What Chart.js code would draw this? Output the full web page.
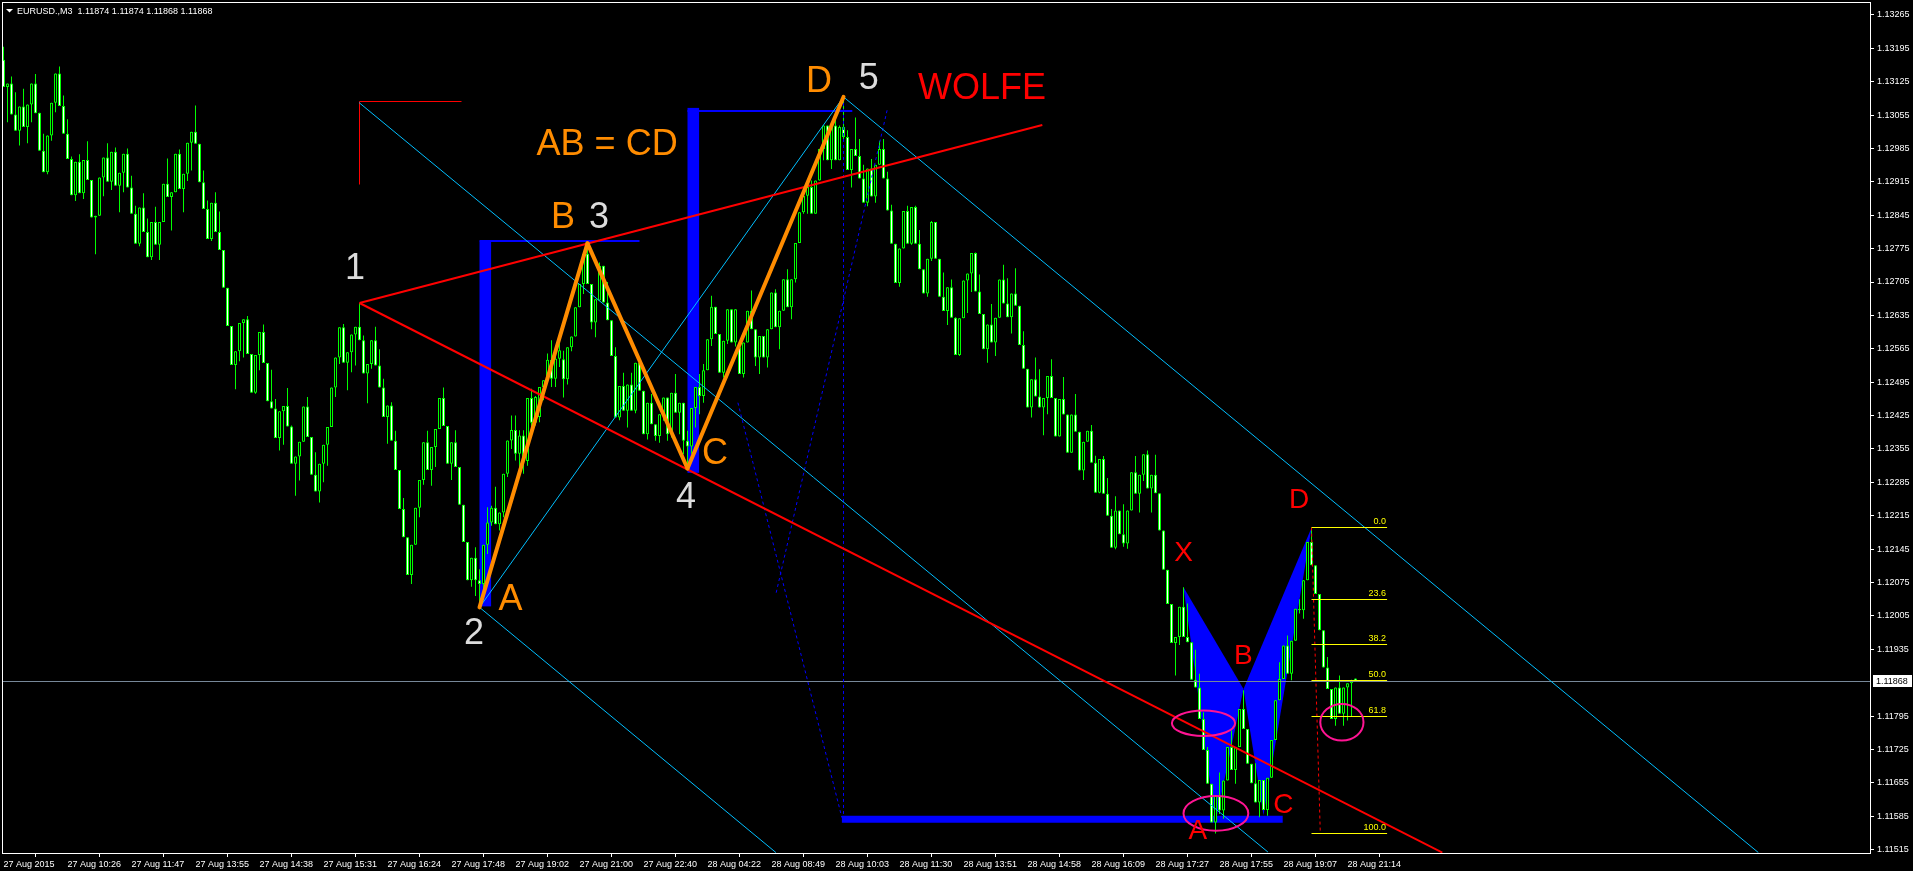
<!DOCTYPE html>
<html>
<head>
<meta charset="utf-8">
<title>EURUSD.,M3</title>
<script src="https://cdn.jsdelivr.net/npm/chart.js@4.4.0/dist/chart.umd.min.js"></script>
<style>
html, body { margin: 0; padding: 0; background: #000; }
canvas { display: block; }
</style>
</head>
<body>
<canvas id="chart" width="1913" height="871"></canvas>
<script>
// EURUSD M3 candles, 27 Aug 2015 - 28 Aug 2015
var opens = [
  1.13171,1.13114,1.13121,1.13056,1.13022,1.13073,1.13030,1.13077,1.13121,1.13060,
  1.12980,1.12935,1.13012,1.13081,1.13142,1.13074,1.13016,1.12963,1.12887,1.12957,
  1.12891,1.12961,1.12919,1.12840,1.12844,1.12924,1.12966,1.12915,1.12978,1.12907,
  1.12934,1.12974,1.12903,1.12848,1.12785,1.12861,1.12810,1.12757,1.12831,1.12783,
  1.12831,1.12911,1.12883,1.12893,1.12974,1.12900,1.12932,1.12997,1.13020,1.12995,
  1.12914,1.12858,1.12795,1.12871,1.12810,1.12772,1.12693,1.12613,1.12531,1.12560,
  1.12619,1.12627,1.12554,1.12473,1.12552,1.12600,1.12535,1.12455,1.12440,1.12378,
  1.12434,1.12445,1.12402,1.12324,1.12339,1.12370,1.12444,1.12380,1.12301,1.12266,
  1.12324,1.12364,1.12401,1.12484,1.12547,1.12610,1.12536,1.12558,1.12595,1.12611,
  1.12583,1.12513,1.12533,1.12583,1.12530,1.12484,1.12422,1.12446,1.12372,1.12311,
  1.12229,1.12170,1.12091,1.12154,1.12232,1.12290,1.12369,1.12311,1.12359,1.12397,
  1.12462,1.12403,1.12324,1.12369,1.12317,1.12238,1.12160,1.12080,1.12127,1.12080,
  1.12072,1.12154,1.12201,1.12232,1.12197,1.12222,1.12303,1.12373,1.12395,1.12345,
  1.12383,1.12330,1.12462,1.12410,1.12422,1.12485,1.12499,1.12542,1.12502,1.12544,
  1.12543,1.12501,1.12568,1.12591,1.12652,1.12701,1.12764,1.12701,1.12620,1.12666,
  1.12739,1.12662,1.12625,1.12550,1.12421,1.12487,1.12435,1.12490,1.12435,1.12536,
  1.12477,1.12386,1.12452,1.12407,1.12382,1.12428,1.12463,1.12386,1.12473,1.12431,
  1.12452,1.12372,1.12360,1.12441,1.12485,1.12466,1.12520,1.12585,1.12653,1.12596,
  1.12515,1.12582,1.12648,1.12578,1.12568,1.12512,1.12578,1.12645,1.12606,1.12547,
  1.12592,1.12547,1.12606,1.12683,1.12610,1.12645,1.12711,1.12652,1.12711,1.12787,
  1.12851,1.12886,1.12904,1.12848,1.12918,1.12984,1.13033,1.12960,1.13033,1.12960,
  1.13030,1.13009,1.12940,1.12984,1.12969,1.12922,1.12871,1.12943,1.12884,1.12951,
  1.12984,1.12922,1.12855,1.12785,1.12703,1.12775,1.12854,1.12785,1.12862,1.12785,
  1.12732,1.12681,1.12754,1.12831,1.12754,1.12674,1.12644,1.12694,1.12630,1.12552,
  1.12629,1.12708,1.12723,1.12766,1.12685,1.12638,1.12564,1.12616,1.12578,1.12630,
  1.12710,1.12660,1.12631,1.12681,1.12655,1.12573,1.12523,1.12442,1.12501,1.12465,
  1.12442,1.12462,1.12508,1.12462,1.12381,1.12460,1.12427,1.12347,1.12427,1.12391,
  1.12310,1.12370,1.12393,1.12326,1.12263,1.12334,1.12261,1.12215,1.12148,1.12226,
  1.12176,1.12157,1.12226,1.12306,1.12261,1.12301,1.12344,1.12272,1.12301,1.12262,
  1.12184,1.12102,1.12030,1.11948,1.11961,1.12024,1.11961,1.11950,1.11871,1.11855,
  1.11789,1.11724,1.11653,1.11572,1.11628,1.11597,1.11660,1.11730,1.11682,1.11730,
  1.11810,1.11768,1.11695,1.11654,1.11614,1.11661,1.11598,1.11666,1.11745,1.11828,
  1.11873,1.11943,1.11884,1.11953,1.12020,1.12017,1.12080,1.12160,1.12111,1.12051,
  1.11975,1.11897,1.11852,1.11789,1.11855,1.11800,1.11855,1.11864,1.11874
];
var highs = [
  1.13198,1.13121,1.13136,1.13103,1.13073,1.13110,1.13077,1.13121,1.13141,1.13060,
  1.13016,1.13012,1.13081,1.13142,1.13157,1.13096,1.13046,1.12968,1.12957,1.12973,
  1.12961,1.13000,1.12919,1.12844,1.12924,1.12966,1.12996,1.12978,1.12987,1.12934,
  1.12974,1.12985,1.12928,1.12865,1.12861,1.12891,1.12838,1.12831,1.12863,1.12831,
  1.12911,1.12964,1.12893,1.12974,1.12983,1.12932,1.12997,1.13020,1.13075,1.12995,
  1.12939,1.12876,1.12871,1.12893,1.12853,1.12772,1.12693,1.12613,1.12560,1.12619,
  1.12627,1.12634,1.12554,1.12552,1.12600,1.12616,1.12535,1.12521,1.12460,1.12434,
  1.12445,1.12483,1.12404,1.12339,1.12370,1.12444,1.12464,1.12380,1.12348,1.12324,
  1.12364,1.12401,1.12484,1.12547,1.12610,1.12617,1.12558,1.12595,1.12611,1.12661,
  1.12593,1.12533,1.12583,1.12611,1.12564,1.12502,1.12446,1.12453,1.12393,1.12311,
  1.12252,1.12170,1.12154,1.12232,1.12290,1.12369,1.12393,1.12359,1.12397,1.12462,
  1.12484,1.12403,1.12369,1.12394,1.12317,1.12238,1.12160,1.12127,1.12149,1.12103,
  1.12154,1.12233,1.12236,1.12276,1.12222,1.12303,1.12373,1.12425,1.12425,1.12394,
  1.12394,1.12462,1.12481,1.12466,1.12485,1.12499,1.12555,1.12583,1.12569,1.12576,
  1.12561,1.12568,1.12591,1.12652,1.12701,1.12764,1.12785,1.12701,1.12669,1.12746,
  1.12739,1.12705,1.12625,1.12568,1.12487,1.12515,1.12490,1.12515,1.12536,1.12547,
  1.12477,1.12452,1.12470,1.12407,1.12428,1.12463,1.12463,1.12473,1.12512,1.12452,
  1.12452,1.12393,1.12441,1.12485,1.12512,1.12533,1.12585,1.12676,1.12653,1.12596,
  1.12582,1.12648,1.12648,1.12648,1.12568,1.12578,1.12645,1.12687,1.12606,1.12592,
  1.12592,1.12606,1.12683,1.12690,1.12645,1.12711,1.12732,1.12711,1.12787,1.12851,
  1.12886,1.12904,1.12918,1.12918,1.12984,1.13033,1.13033,1.13033,1.13058,1.13033,
  1.13093,1.13023,1.12984,1.13050,1.13005,1.12951,1.12943,1.12963,1.12951,1.13001,
  1.13005,1.12936,1.12867,1.12785,1.12775,1.12854,1.12865,1.12862,1.12865,1.12814,
  1.12732,1.12754,1.12833,1.12831,1.12754,1.12725,1.12694,1.12710,1.12631,1.12629,
  1.12708,1.12723,1.12766,1.12767,1.12721,1.12638,1.12616,1.12659,1.12630,1.12710,
  1.12741,1.12713,1.12681,1.12734,1.12655,1.12602,1.12523,1.12501,1.12547,1.12522,
  1.12462,1.12508,1.12543,1.12462,1.12460,1.12506,1.12427,1.12427,1.12470,1.12391,
  1.12370,1.12393,1.12405,1.12341,1.12334,1.12340,1.12294,1.12229,1.12256,1.12226,
  1.12239,1.12226,1.12306,1.12340,1.12301,1.12344,1.12352,1.12301,1.12343,1.12262,
  1.12184,1.12102,1.12030,1.11961,1.12024,1.12065,1.12031,1.11950,1.11934,1.11884,
  1.11803,1.11730,1.11653,1.11628,1.11677,1.11660,1.11730,1.11765,1.11730,1.11810,
  1.11849,1.11768,1.11695,1.11696,1.11661,1.11661,1.11666,1.11745,1.11828,1.11908,
  1.11943,1.11964,1.11953,1.12020,1.12040,1.12080,1.12160,1.12188,1.12111,1.12051,
  1.11975,1.11919,1.11852,1.11855,1.11880,1.11855,1.11864,1.11871,1.11874
];
var lows = [
  1.13114,1.13040,1.13056,1.13022,1.12991,1.13030,1.12996,1.13040,1.13059,1.12980,
  1.12935,1.12931,1.13001,1.13061,1.13074,1.13016,1.12963,1.12887,1.12875,1.12891,
  1.12879,1.12919,1.12840,1.12763,1.12844,1.12885,1.12915,1.12898,1.12907,1.12851,
  1.12893,1.12903,1.12848,1.12785,1.12780,1.12810,1.12757,1.12751,1.12783,1.12751,
  1.12831,1.12883,1.12813,1.12893,1.12900,1.12851,1.12917,1.12939,1.12995,1.12914,
  1.12858,1.12795,1.12791,1.12810,1.12772,1.12693,1.12613,1.12531,1.12480,1.12539,
  1.12547,1.12554,1.12473,1.12471,1.12520,1.12535,1.12455,1.12440,1.12378,1.12352,
  1.12364,1.12402,1.12324,1.12257,1.12289,1.12370,1.12380,1.12301,1.12266,1.12243,
  1.12285,1.12320,1.12401,1.12464,1.12533,1.12536,1.12478,1.12516,1.12530,1.12583,
  1.12513,1.12451,1.12523,1.12530,1.12484,1.12422,1.12366,1.12372,1.12311,1.12229,
  1.12170,1.12091,1.12072,1.12154,1.12212,1.12280,1.12311,1.12278,1.12317,1.12397,
  1.12403,1.12324,1.12290,1.12317,1.12238,1.12160,1.12080,1.12066,1.12047,1.12023,
  1.12060,1.12135,1.12194,1.12197,1.12184,1.12212,1.12296,1.12355,1.12331,1.12317,
  1.12303,1.12320,1.12394,1.12404,1.12411,1.12457,1.12492,1.12485,1.12485,1.12527,
  1.12463,1.12490,1.12560,1.12591,1.12652,1.12680,1.12701,1.12606,1.12589,1.12666,
  1.12662,1.12625,1.12550,1.12421,1.12415,1.12435,1.12400,1.12435,1.12430,1.12477,
  1.12386,1.12375,1.12407,1.12372,1.12368,1.12414,1.12372,1.12379,1.12431,1.12386,
  1.12344,1.12312,1.12345,1.12400,1.12428,1.12452,1.12520,1.12571,1.12596,1.12515,
  1.12505,1.12575,1.12578,1.12570,1.12512,1.12505,1.12578,1.12606,1.12529,1.12512,
  1.12547,1.12526,1.12606,1.12610,1.12564,1.12645,1.12652,1.12627,1.12704,1.12787,
  1.12848,1.12848,1.12848,1.12848,1.12918,1.12960,1.12960,1.12942,1.12960,1.12960,
  1.13005,1.12940,1.12903,1.12969,1.12922,1.12871,1.12864,1.12884,1.12871,1.12951,
  1.12922,1.12855,1.12785,1.12703,1.12695,1.12775,1.12785,1.12783,1.12785,1.12732,
  1.12681,1.12674,1.12749,1.12754,1.12674,1.12644,1.12615,1.12630,1.12552,1.12550,
  1.12629,1.12640,1.12684,1.12685,1.12638,1.12564,1.12536,1.12578,1.12550,1.12630,
  1.12660,1.12631,1.12597,1.12655,1.12573,1.12523,1.12442,1.12421,1.12465,1.12442,
  1.12384,1.12428,1.12462,1.12381,1.12381,1.12427,1.12347,1.12347,1.12391,1.12310,
  1.12290,1.12370,1.12326,1.12263,1.12262,1.12261,1.12215,1.12148,1.12145,1.12176,
  1.12150,1.12146,1.12226,1.12261,1.12222,1.12288,1.12272,1.12222,1.12262,1.12184,
  1.12102,1.12030,1.11948,1.11880,1.11944,1.11961,1.11950,1.11871,1.11855,1.11789,
  1.11724,1.11653,1.11572,1.11549,1.11590,1.11580,1.11660,1.11682,1.11653,1.11730,
  1.11768,1.11695,1.11654,1.11614,1.11583,1.11598,1.11586,1.11666,1.11745,1.11828,
  1.11873,1.11884,1.11870,1.11953,1.12010,1.11999,1.12080,1.12111,1.12051,1.11975,
  1.11897,1.11852,1.11789,1.11775,1.11800,1.11775,1.11786,1.11793,1.11868
];
var closes = [
  1.13114,1.13121,1.13056,1.13022,1.13073,1.13030,1.13077,1.13121,1.13059,1.12980,
  1.12935,1.13012,1.13081,1.13142,1.13074,1.13016,1.12963,1.12887,1.12957,1.12891,
  1.12961,1.12919,1.12840,1.12844,1.12924,1.12966,1.12915,1.12978,1.12907,1.12934,
  1.12974,1.12903,1.12848,1.12785,1.12861,1.12810,1.12757,1.12831,1.12783,1.12831,
  1.12911,1.12883,1.12893,1.12974,1.12900,1.12932,1.12997,1.13020,1.12995,1.12914,
  1.12858,1.12795,1.12871,1.12810,1.12772,1.12693,1.12613,1.12531,1.12560,1.12619,
  1.12627,1.12554,1.12473,1.12552,1.12600,1.12535,1.12455,1.12440,1.12378,1.12434,
  1.12445,1.12402,1.12324,1.12339,1.12370,1.12444,1.12380,1.12301,1.12266,1.12324,
  1.12364,1.12401,1.12484,1.12547,1.12610,1.12536,1.12558,1.12595,1.12611,1.12583,
  1.12513,1.12533,1.12583,1.12530,1.12484,1.12422,1.12446,1.12372,1.12311,1.12229,
  1.12170,1.12091,1.12154,1.12232,1.12290,1.12369,1.12311,1.12359,1.12397,1.12462,
  1.12403,1.12324,1.12369,1.12317,1.12238,1.12160,1.12080,1.12127,1.12080,1.12072,
  1.12154,1.12201,1.12232,1.12197,1.12222,1.12303,1.12373,1.12395,1.12345,1.12383,
  1.12330,1.12462,1.12410,1.12464,1.12485,1.12499,1.12542,1.12502,1.12544,1.12562,
  1.12501,1.12568,1.12591,1.12652,1.12701,1.12764,1.12701,1.12620,1.12669,1.12739,
  1.12662,1.12625,1.12550,1.12421,1.12487,1.12435,1.12490,1.12435,1.12536,1.12477,
  1.12386,1.12452,1.12407,1.12382,1.12428,1.12463,1.12386,1.12473,1.12431,1.12452,
  1.12372,1.12360,1.12441,1.12485,1.12466,1.12520,1.12585,1.12653,1.12596,1.12515,
  1.12582,1.12648,1.12578,1.12648,1.12512,1.12578,1.12645,1.12606,1.12547,1.12592,
  1.12547,1.12606,1.12683,1.12610,1.12645,1.12711,1.12652,1.12711,1.12787,1.12851,
  1.12886,1.12904,1.12848,1.12918,1.12984,1.13033,1.12960,1.13033,1.12960,1.13030,
  1.13009,1.12940,1.12984,1.12969,1.12922,1.12871,1.12943,1.12884,1.12951,1.12984,
  1.12922,1.12855,1.12785,1.12703,1.12775,1.12854,1.12785,1.12862,1.12785,1.12732,
  1.12681,1.12754,1.12831,1.12754,1.12674,1.12644,1.12694,1.12630,1.12552,1.12629,
  1.12708,1.12723,1.12766,1.12685,1.12638,1.12564,1.12616,1.12578,1.12630,1.12710,
  1.12660,1.12631,1.12681,1.12655,1.12573,1.12523,1.12442,1.12501,1.12465,1.12442,
  1.12462,1.12508,1.12462,1.12381,1.12460,1.12427,1.12347,1.12427,1.12391,1.12310,
  1.12370,1.12393,1.12326,1.12263,1.12334,1.12261,1.12215,1.12148,1.12226,1.12176,
  1.12157,1.12226,1.12306,1.12261,1.12301,1.12344,1.12272,1.12301,1.12262,1.12184,
  1.12102,1.12030,1.11948,1.11961,1.12024,1.11961,1.11950,1.11871,1.11855,1.11789,
  1.11724,1.11653,1.11572,1.11628,1.11597,1.11660,1.11730,1.11682,1.11730,1.11810,
  1.11768,1.11695,1.11654,1.11614,1.11661,1.11598,1.11666,1.11745,1.11828,1.11873,
  1.11943,1.11884,1.11953,1.12020,1.12017,1.12080,1.12160,1.12111,1.12051,1.11975,
  1.11897,1.11852,1.11789,1.11855,1.11800,1.11855,1.11864,1.11870,1.11868
];

// axis labels
var timeTickIndex = [0,16,32,48,64,80,96,112,128,144,160,176,192,208,224,240,256,272,288,304,320,336];
var timeLabels = ['27 Aug 2015','27 Aug 10:26','27 Aug 11:47','27 Aug 13:55','27 Aug 14:38','27 Aug 15:31',
  '27 Aug 16:24','27 Aug 17:48','27 Aug 19:02','27 Aug 21:00','27 Aug 22:40','28 Aug 04:22','28 Aug 08:49',
  '28 Aug 10:03','28 Aug 11:30','28 Aug 13:51','28 Aug 14:58','28 Aug 16:09','28 Aug 17:27','28 Aug 17:55',
  '28 Aug 19:07','28 Aug 21:14'];
var priceTicks = [1.13265,1.13195,1.13125,1.13055,1.12985,1.12915,1.12845,1.12775,1.12705,1.12635,1.12565,
  1.12495,1.12425,1.12355,1.12285,1.12215,1.12145,1.12075,1.12005,1.11935,1.11795,1.11725,1.11655,1.11585,1.11515];
var symbolName = 'EURUSD.,M3';

// drawn objects, as [bar index, price] anchors
var wolfeLines = [[89, 1.12661, 259.7, 1.13034], [89, 1.12661, 359.7, 1.11509]];
var channelLines = [[88.9, 1.13081, 316.1, 1.11510], [210, 1.13093, 438.7, 1.11509],
  [119, 1.12023, 193.1, 1.11509], [119, 1.12023, 210, 1.13093]];
var cornerLines = [[88.9, 1.12910, 88.9, 1.13084], [88.9, 1.13084, 114.4, 1.13084]];
var dottedLines = [[220.9, 1.13065, 193.1, 1.12051], [183.6, 1.12452, 209.6, 1.11582], [210, 1.13093, 210, 1.11579]];
var abcdPoints = [[119, 1.12023], [146, 1.12786], [171, 1.12314], [210, 1.13093]];
var blueBars = [[119, 121.9, 1.12790, 1.12025], [171, 173.9, 1.13070, 1.12305]];
var blueThin = [[119, 1.12790, 159, 1.12790], [171, 1.13064, 212.2, 1.13064]];
var blueFloor = [209.6, 1.11579, 319.8, 1.11579];
var xabcdPoints = [[295, 1.12065], [303, 1.11572], [310, 1.11852], [315, 1.11587], [327, 1.12190]];
var fibTrend = [327, 1.12190, 329.2, 1.11549];
var fibLabels = ['0.0', '23.6', '38.2', '50.0', '61.8', '100.0'];
var fibPrices = [1.12190, 1.12039, 1.11945, 1.11870, 1.11794, 1.11549];
var fibEnd = 345.9;
var circles = [[300, 1.11780, 7.9, 0.000266], [303.1, 1.11591, 8.1, 0.000363], [334.6, 1.11782, 5.4, 0.000384]];
var waveLabels = [['1', 87.9, 1.12732], ['2', 117.6, 1.11967], ['3', 148.9, 1.12840], ['4', 170.6, 1.12252], ['5', 216.3, 1.13130]];
var abcdLabels = [['A', 126.75, 1.12038], ['B', 139.9, 1.12840], ['C', 177.9, 1.12344], ['D', 203.9, 1.13124], ['AB = CD', 150.9, 1.12992]];
var wolfeLabel = ['WOLFE', 244.6, 1.13109];
var xabcdLabels = [['X', 295.05, 1.12136], ['A', 298.6, 1.11554], ['B', 309.95, 1.11920], ['C', 319.95, 1.11609], ['D', 323.9, 1.12248]];

var idx = opens.map(function (v, i) { return i; });
var wickData = idx.map(function (i) { return { x: i, y: [lows[i], highs[i]] }; });
var bodyData = idx.map(function (i) { return { x: i, y: [Math.min(opens[i], closes[i]), Math.max(opens[i], closes[i])] }; });
var bodyFill = idx.map(function (i) { return closes[i] < opens[i] ? '#ffffff' : '#000000'; });

var FONT = '"Liberation Sans", Arial, sans-serif';

function seg(ctx, sx, sy, s) {
  ctx.beginPath();
  ctx.moveTo(sx.getPixelForValue(s[0]), sy.getPixelForValue(s[1]));
  ctx.lineTo(sx.getPixelForValue(s[2]), sy.getPixelForValue(s[3]));
  ctx.stroke();
}
function crisp(v) { return Math.round(v - 0.5) + 0.5; }
function labels(ctx, sx, sy, list) {
  list.forEach(function (l) { ctx.fillText(l[0], sx.getPixelForValue(l[1]), sy.getPixelForValue(l[2])); });
}

var overlay = {
  id: 'overlay',
  beforeDatasetsDraw: function (chart) {
    var ctx = chart.ctx, a = chart.chartArea, sx = chart.scales.x, sy = chart.scales.y;
    ctx.save();
    ctx.beginPath(); ctx.rect(a.left, a.top, a.right - a.left, a.bottom - a.top); ctx.clip();
    ctx.fillStyle = '#0000ff';
    blueBars.forEach(function (b) {
      var x0 = sx.getPixelForValue(b[0]), x1 = sx.getPixelForValue(b[1]);
      var y0 = sy.getPixelForValue(b[2]), y1 = sy.getPixelForValue(b[3]);
      ctx.fillRect(x0, y0, x1 - x0, y1 - y0);
    });
    [[0, 1, 2], [2, 3, 4]].forEach(function (t) {
      ctx.beginPath();
      t.forEach(function (k, j) {
        var px = sx.getPixelForValue(xabcdPoints[k][0]), py = sy.getPixelForValue(xabcdPoints[k][1]);
        if (j) ctx.lineTo(px, py); else ctx.moveTo(px, py);
      });
      ctx.closePath(); ctx.fill();
    });
    ctx.strokeStyle = '#0000ff';
    ctx.lineWidth = 2;
    blueThin.forEach(function (s) {
      var y = Math.round(sy.getPixelForValue(s[1]));
      ctx.beginPath(); ctx.moveTo(sx.getPixelForValue(s[0]), y); ctx.lineTo(sx.getPixelForValue(s[2]), y); ctx.stroke();
    });
    ctx.lineWidth = 7;
    seg(ctx, sx, sy, blueFloor);
    ctx.restore();
  },
  afterDatasetsDraw: function (chart) {
    var ctx = chart.ctx, a = chart.chartArea, sx = chart.scales.x, sy = chart.scales.y;
    ctx.save();
    ctx.beginPath(); ctx.rect(a.left, a.top, a.right - a.left, a.bottom - a.top); ctx.clip();

    // last price line
    var yl = crisp(sy.getPixelForValue(closes[closes.length - 1]));
    ctx.strokeStyle = '#778899'; ctx.lineWidth = 1;
    ctx.beginPath(); ctx.moveTo(a.left, yl); ctx.lineTo(a.right, yl); ctx.stroke();

    // dotted helper lines
    ctx.strokeStyle = '#0000ff'; ctx.lineWidth = 1; ctx.setLineDash([3, 3]);
    dottedLines.forEach(function (s) { seg(ctx, sx, sy, s); });
    ctx.strokeStyle = '#ff0000';
    seg(ctx, sx, sy, fibTrend);
    ctx.setLineDash([]);

    // red corner
    ctx.strokeStyle = '#ff0000'; ctx.lineWidth = 1;
    cornerLines.forEach(function (s) {
      var s2 = s.slice();
      ctx.beginPath();
      ctx.moveTo(crisp(sx.getPixelForValue(s2[0])), crisp(sy.getPixelForValue(s2[1])));
      ctx.lineTo(crisp(sx.getPixelForValue(s2[2])), crisp(sy.getPixelForValue(s2[3])));
      ctx.stroke();
    });

    // channel lines
    ctx.strokeStyle = '#00bfff'; ctx.lineWidth = 1;
    channelLines.forEach(function (s) { seg(ctx, sx, sy, s); });

    // wolfe lines
    ctx.strokeStyle = '#ff0000'; ctx.lineWidth = 2;
    wolfeLines.forEach(function (s) { seg(ctx, sx, sy, s); });

    // AB = CD zigzag
    ctx.strokeStyle = '#ff8c00'; ctx.lineWidth = 4; ctx.lineCap = 'round';
    for (var k = 0; k < abcdPoints.length - 1; k++) {
      seg(ctx, sx, sy, [abcdPoints[k][0], abcdPoints[k][1], abcdPoints[k + 1][0], abcdPoints[k + 1][1]]);
    }
    ctx.lineCap = 'butt';

    // fibonacci levels
    ctx.strokeStyle = '#ffff00'; ctx.lineWidth = 1;
    ctx.fillStyle = '#ffff00'; ctx.font = '9px ' + FONT; ctx.textAlign = 'right'; ctx.textBaseline = 'bottom';
    var fx0 = sx.getPixelForValue(fibTrend[0]), fx1 = sx.getPixelForValue(fibEnd);
    fibPrices.forEach(function (p, k) {
      var y = crisp(sy.getPixelForValue(p));
      ctx.beginPath(); ctx.moveTo(fx0, y); ctx.lineTo(fx1, y); ctx.stroke();
      ctx.fillText(fibLabels[k], fx1 - 1, y - 1);
    });

    // circles
    ctx.strokeStyle = '#ff1493'; ctx.lineWidth = 2;
    circles.forEach(function (c) {
      var cx = sx.getPixelForValue(c[0]), cy = sy.getPixelForValue(c[1]);
      var rx = Math.abs(sx.getPixelForValue(c[0] + c[2]) - cx), ry = Math.abs(sy.getPixelForValue(c[1] + c[3]) - cy);
      ctx.beginPath(); ctx.ellipse(cx, cy, rx, ry, 0, 0, Math.PI * 2); ctx.stroke();
    });

    // texts
    ctx.textAlign = 'center'; ctx.textBaseline = 'middle';
    ctx.font = '36px ' + FONT;
    ctx.fillStyle = '#dcdcdc'; labels(ctx, sx, sy, waveLabels);
    ctx.fillStyle = '#ff8c00'; labels(ctx, sx, sy, abcdLabels);
    ctx.fillStyle = '#ff0000'; labels(ctx, sx, sy, [wolfeLabel]);
    ctx.font = '28px ' + FONT;
    labels(ctx, sx, sy, xabcdLabels);
    ctx.restore();
  },
  afterDraw: function (chart) {
    var ctx = chart.ctx, a = chart.chartArea, sy = chart.scales.y;
    var n = closes.length - 1;
    ctx.save();
    ctx.strokeStyle = '#ffffff'; ctx.lineWidth = 1;
    ctx.strokeRect(a.left + 0.5, a.top + 0.5, a.right - a.left, a.bottom - a.top);
    // header
    ctx.fillStyle = '#ffffff';
    ctx.beginPath(); ctx.moveTo(6, 9); ctx.lineTo(13, 9); ctx.lineTo(9.5, 12.5); ctx.closePath(); ctx.fill();
    ctx.font = '9px ' + FONT; ctx.textAlign = 'left'; ctx.textBaseline = 'alphabetic';
    ctx.fillText(symbolName + '  ' + [opens[n], highs[n], lows[n], closes[n]].map(function (v) { return v.toFixed(5); }).join(' '), 17, 14);
    // last price tag
    var y = Math.round(sy.getPixelForValue(closes[n]));
    ctx.fillStyle = '#ffffff';
    ctx.fillRect(a.right + 3, y - 6, 39, 12);
    ctx.fillStyle = '#000000'; ctx.textBaseline = 'middle';
    ctx.fillText(closes[n].toFixed(5), a.right + 6, y + 0.5);
    ctx.restore();
  }
};

var ctx = document.getElementById('chart').getContext('2d');
var chart = new Chart(ctx, {
  type: 'bar',
  data: {
    datasets: [
      { label: 'body', data: bodyData, backgroundColor: bodyFill, borderColor: '#00ff00', borderWidth: 1,
        borderSkipped: false, barThickness: 3, minBarLength: 1, grouped: false, inflateAmount: 0, order: 1 },
      { label: 'wick', data: wickData, backgroundColor: '#00ff00', borderWidth: 0,
        barThickness: 1, grouped: false, inflateAmount: 0, order: 2 }
    ]
  },
  options: {
    responsive: false,
    animation: false,
    devicePixelRatio: 1,
    events: [],
    layout: { padding: { left: 2, top: 2, right: 0, bottom: 0 } },
    plugins: { legend: { display: false }, tooltip: { enabled: false } },
    scales: {
      x: {
        type: 'linear', position: 'bottom', min: -0.375, max: 466.625, offset: false,
        grid: { drawOnChartArea: false, drawTicks: true, tickLength: 4, color: '#ffffff' },
        border: { display: false },
        ticks: {
          color: '#ffffff', font: { size: 9, family: FONT }, padding: 2, autoSkip: false, maxRotation: 0,
          align: 'start', callback: function (v, k) { return timeLabels[k]; }
        },
        afterBuildTicks: function (s) { s.ticks = timeTickIndex.map(function (v) { return { value: v }; }); },
        afterFit: function (s) { s.height = 18; s.paddingLeft = 0; s.paddingRight = 0; }
      },
      y: {
        type: 'linear', position: 'right', min: 1.11508, max: 1.13292,
        grid: { drawOnChartArea: false, drawTicks: true, tickLength: 4, color: '#ffffff' },
        border: { display: false },
        ticks: { color: '#ffffff', font: { size: 9, family: FONT }, padding: 3, autoSkip: false,
          callback: function (v) { return v.toFixed(5); } },
        afterBuildTicks: function (s) { s.ticks = priceTicks.map(function (v) { return { value: v }; }); },
        afterFit: function (s) { s.width = 43; s.paddingTop = 0; s.paddingBottom = 0; }
      }
    }
  },
  plugins: [overlay]
});
</script>
</body>
</html>
